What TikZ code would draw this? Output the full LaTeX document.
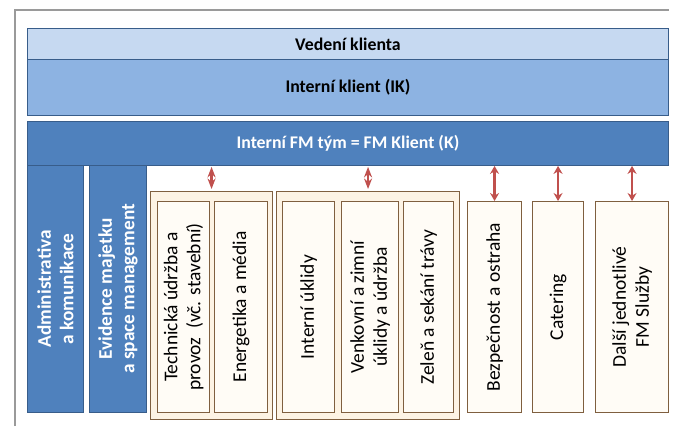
\documentclass[tikz,border=0pt]{standalone}
\usepackage{fontspec}
\setmainfont{Carlito}
\usetikzlibrary{arrows.meta}
\definecolor{lightblue}{HTML}{C6D9F1}
\definecolor{midblue}{HTML}{8DB3E2}
\definecolor{darkblue}{HTML}{4F81BD}
\definecolor{blueedge}{HTML}{385D8A}
\definecolor{brownedge}{HTML}{7F5F3F}
\definecolor{groupfill}{HTML}{FDF3E4}
\definecolor{boxfill}{HTML}{FFFCF6}
\definecolor{arrowred}{HTML}{C0504D}
\definecolor{framegray}{HTML}{9A9A9A}
\tikzset{
  band/.style={draw=blueedge, line width=0.9pt, anchor=north west, inner sep=0pt},
  bandtext/.style={font=\fontsize{17.8}{20}\selectfont\bfseries},
  column/.style={draw=blueedge, line width=0.9pt, fill=darkblue, anchor=north west, inner sep=0pt,
    minimum height=247pt},
  coltext/.style={rotate=90, align=center, text=white, font=\fontsize{19.3}{22.5}\selectfont\bfseries},
  groupbox/.style={draw=brownedge, line width=1.1pt, fill=groupfill, anchor=north west, inner sep=0pt,
    minimum height=228pt},
  svcbox/.style={draw=brownedge, line width=1.1pt, fill=boxfill, anchor=north west, inner sep=0pt,
    minimum height=211pt},
  svctext/.style={rotate=90, align=center, font=\fontsize{19.5}{23}\selectfont},
  link/.style={draw=arrowred, line width=2.2pt,
    {Stealth[length=8pt,width=9pt]}-{Stealth[length=8pt,width=9pt]}},
  grouplink/.style={draw=arrowred, line width=2.2pt, shorten <=1pt, shorten >=2pt,
    {Stealth[length=10.5pt,width=8pt]}-{Stealth[length=10.5pt,width=8pt]}},
}
\begin{document}
\begin{tikzpicture}[x=1pt,y=-1pt]
\useasboundingbox (0,0) rectangle (675,426);
% outer frame
\coordinate (fr1) at (15,426);
\coordinate (fr2) at (15,10);
\coordinate (fr3) at (669,10);
\draw[framegray, line width=1.2pt] (fr1) -- (fr2) -- (fr3);

% management bands
\node[band, fill=lightblue, minimum width=641pt, minimum height=31pt] (ved) at (27,28) {};
\node[bandtext] (vedT) at (ved.center) {Vedení klienta};
\node[band, fill=midblue, minimum width=641pt, minimum height=56pt] (ik) at (27,59) {};
\node[bandtext] (ikT) at (ik.center) {Interní klient (IK)};
\node[band, fill=darkblue, minimum width=641pt, minimum height=44pt] (fm) at (27,121) {};
\node[bandtext, text=white] (fmT) at (fm.center) {Interní FM tým = FM Klient (K)};

% internal support columns
\node[column, minimum width=56pt] (adm) at (27,165) {};
\node[coltext] (admT) at (adm.center) {Administrativa\\a komunikace};
\node[column, minimum width=57pt] (evi) at (89,165) {};
\node[coltext] (eviT) at (evi.center) {Evidence majetku\\a space management};

% service groups
\node[groupbox, minimum width=122pt] (g1) at (150,191) {};
\node[groupbox, minimum width=183pt] (g2) at (276,191) {};

% services
\node[svcbox, minimum width=52pt] (tech) at (157,201) {};
\node[svctext] (techT) at (tech.center) {Technická údržba a\\provoz\ \ (vč. stavební)};
\node[svcbox, minimum width=53pt] (ener) at (214,201) {};
\node[svctext] (enerT) at (ener.center) {Energetika a média};
\node[svcbox, minimum width=52pt] (ukl) at (282,201) {};
\node[svctext] (uklT) at (ukl.center) {Interní úklidy};
\node[svcbox, minimum width=57pt] (venk) at (341,201) {};
\node[svctext] (venkT) at (venk.center) {Venkovní a zimní\\úklidy a údržba};
\node[svcbox, minimum width=50pt] (zel) at (403,201) {};
\node[svctext] (zelT) at (zel.center) {Zeleň a sekání trávy};
\node[svcbox, minimum width=54pt] (bez) at (467,201) {};
\node[svctext] (bezT) at (bez.center) {Bezpečnost a ostraha};
\node[svcbox, minimum width=51pt] (cat) at (532,201) {};
\node[svctext] (catT) at (cat.center) {Catering};
\node[svcbox, minimum width=73pt] (dal) at (595,201) {};
\node[svctext] (dalT) at (dal.center) {Další jednotlivé\\FM Služby};

% links to the FM team
\draw[grouplink] (g1.north |- fm.south) -- (g1.north);
\draw[grouplink] (g2.north |- fm.south) -- (g2.north);
\draw[link] (bez.north |- fm.south) -- (bez.north);
\draw[link] (cat.north |- fm.south) -- (cat.north);
\draw[link] (dal.north |- fm.south) -- (dal.north);
\end{tikzpicture}
\end{document}
